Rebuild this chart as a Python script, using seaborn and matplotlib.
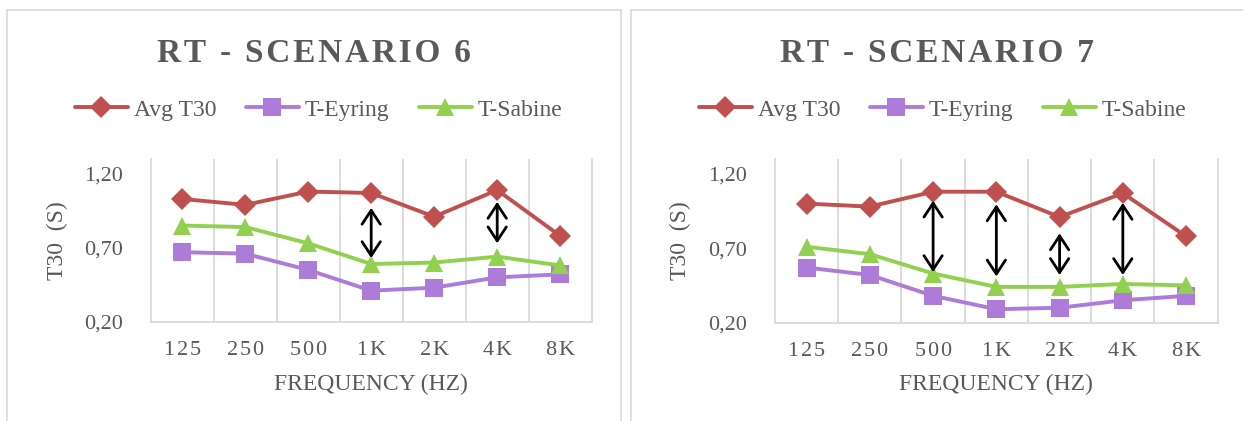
import numpy as np
import pandas as pd
import matplotlib
matplotlib.use("Agg")
import matplotlib.pyplot as plt
import seaborn as sns
from matplotlib.patches import Rectangle

# ---------------- data ----------------
freq_labels = ["125", "250", "500", "1K", "2K", "4K", "8K"]
series_names = ["Avg T30", "T-Eyring", "T-Sabine"]

s6_avg = [1.03, 0.99, 1.08, 1.07, 0.91, 1.09, 0.78]
s6_eyring = [0.67, 0.66, 0.55, 0.41, 0.43, 0.50, 0.52]
s6_sabine = [0.85, 0.84, 0.73, 0.59, 0.60, 0.64, 0.58]

s7_avg = [1.00, 0.98, 1.08, 1.08, 0.91, 1.07, 0.78]
s7_eyring = [0.57, 0.52, 0.38, 0.29, 0.30, 0.35, 0.38]
s7_sabine = [0.71, 0.66, 0.53, 0.44, 0.44, 0.46, 0.45]

y_ticks = [0.20, 0.70, 1.20]

s6_arrow_cats = ["1K", "4K"]
s6_arrow_top = [0.97, 1.01]
s6_arrow_bottom = [0.63, 0.73]
s7_arrow_cats = ["500", "1K", "2K", "4K"]
s7_arrow_top = [1.02, 0.995, 0.80, 1.005]
s7_arrow_bottom = [0.54, 0.51, 0.52, 0.52]

titles = ["RT - SCENARIO 6", "RT - SCENARIO 7"]
x_title = "FREQUENCY (HZ)"
y_title = "T30  (S)"

# ---------------- style ----------------
sns.set_theme(style="white")
plt.rcParams["font.family"] = ["Liberation Serif", "DejaVu Sans"]
TXT = "#595959"
GRID = "#D9D9D9"
colors = {"Avg T30": "#C0504D", "T-Eyring": "#AD7BD8", "T-Sabine": "#92D050"}
markers = {"Avg T30": "D", "T-Eyring": "s", "T-Sabine": "^"}
msizes = {"Avg T30": 11, "T-Eyring": 13, "T-Sabine": 12.5}

HS = "\u200a"
def spaced(s):
    return HS.join(list(s))

W, H = 1243, 421
fig = plt.figure(figsize=(W / 100, H / 100), dpi=100)

# panel borders (chart-area frames)
fig.patches.append(Rectangle((7 / W, -0.05), (621 - 7) / W, 1.05 - 10 / H,
                             transform=fig.transFigure, fill=False,
                             edgecolor=GRID, lw=1.2))
fig.patches.append(Rectangle((630.5 / W, -0.05), (1244 - 630.5) / W, 1.05 - 10 / H,
                             transform=fig.transFigure, fill=False,
                             edgecolor=GRID, lw=1.2))

panels = [
    dict(left=150.7, right=591.7, top=159, bottom=321.7, cx=313.5, ylx=57,
         data=[s6_avg, s6_eyring, s6_sabine], title=titles[0],
         acats=s6_arrow_cats, atop=s6_arrow_top, abot=s6_arrow_bottom),
    dict(left=775, right=1217.7, top=159, bottom=322.6, cx=937.5, ylx=680,
         data=[s7_avg, s7_eyring, s7_sabine], title=titles[1],
         acats=s7_arrow_cats, atop=s7_arrow_top, abot=s7_arrow_bottom),
]

for p in panels:
    aw = p["right"] - p["left"]
    ah = p["bottom"] - p["top"]
    ax = fig.add_axes([p["left"] / W, (H - p["bottom"]) / H, aw / W, ah / H])
    ax.set_facecolor("none")

    rows = []
    for name, vals in zip(series_names, p["data"]):
        for f, v in zip(freq_labels, vals):
            rows.append({"freq": f, "series": name, "T30": v})
    df = pd.DataFrame(rows)
    df["x"] = df["freq"].map({f: i for i, f in enumerate(freq_labels)})

    for name in series_names:
        sub = df[df["series"] == name]
        sns.lineplot(data=sub, x="x", y="T30", ax=ax, color=colors[name],
                     marker=markers[name], markersize=msizes[name],
                     markeredgewidth=0, lw=2.8, label=name, sort=False,
                     zorder=3)

    for c, t, b in zip(p["acats"], p["atop"], p["abot"]):
        xi = freq_labels.index(c)
        ax.annotate("", xy=(xi, t), xytext=(xi, b),
                    arrowprops=dict(arrowstyle="<->,head_length=0.5,head_width=0.33",
                                    lw=2.0, color="black", mutation_scale=20,
                                    shrinkA=0, shrinkB=0), zorder=5)

    ax.set_xlim(-0.5, 6.5)
    ax.set_ylim(0.2, 1.3)
    ax.set_xticks(range(len(freq_labels)))
    ax.set_xticklabels([spaced(f) for f in freq_labels])
    ax.set_xticks(np.arange(0.5, 6.0, 1.0), minor=True)
    ax.grid(False)
    ax.xaxis.grid(True, which="minor", color=GRID, lw=1.3)
    ax.set_yticks(y_ticks)
    ax.set_yticklabels([f"{v:.2f}".replace(".", ",") for v in y_ticks])
    ax.tick_params(axis="both", which="both", length=0, colors=TXT, labelsize=16)
    ax.tick_params(axis="y", pad=20)
    ax.tick_params(axis="x", pad=14)
    for s in ["left", "right", "bottom"]:
        ax.spines[s].set_visible(True)
        ax.spines[s].set_color(GRID)
        ax.spines[s].set_linewidth(1.3)
    ax.spines["top"].set_visible(False)

    ax.set_xlabel(x_title, fontsize=17, color=TXT, va="center")
    ax.xaxis.set_label_coords(0.5, -(384 - p["bottom"]) / ah)
    ax.set_ylabel(y_title, fontsize=17, color=TXT, va="center")
    ax.yaxis.set_label_coords(-(p["left"] - p["ylx"]) / aw, 0.5)

    tx = (p["cx"] - p["left"]) / aw
    ax.set_title(spaced(p["title"]), x=tx, y=(p["bottom"] - 53) / ah, pad=0,
                 va="center", ha="center", fontsize=24, fontweight="bold",
                 color=TXT)

    leg = ax.legend(loc="center", bbox_to_anchor=((p["cx"] + 5 - p["left"]) / aw,
                                                  (p["bottom"] - 110) / ah),
                    ncol=3, frameon=False, fontsize=17, handlelength=2.25,
                    handletextpad=0.25, columnspacing=1.25, borderaxespad=0)
    for t in leg.get_texts():
        t.set_color(TXT)

fig.savefig("out.png", dpi=100, facecolor="white")
